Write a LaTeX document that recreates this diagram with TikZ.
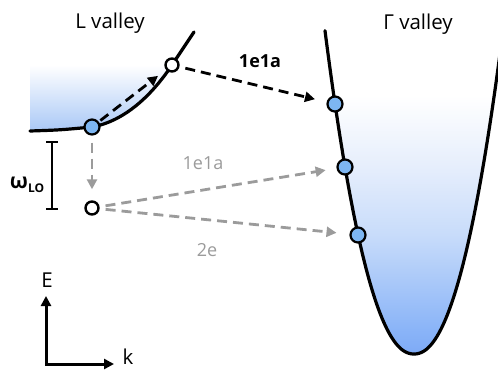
\documentclass[tikz,border=0pt]{standalone}
\usepackage{fontspec}
\setmainfont{Open Sans}
\usetikzlibrary{arrows.meta}
\definecolor{dotblue}{HTML}{7DB6F2}
\definecolor{gblue}{HTML}{7BA9F6}
\definecolor{gc0}{HTML}{7EAAF6}
\definecolor{gc1}{HTML}{8AB4F8}
\definecolor{gc2}{HTML}{C8DCFA}
\definecolor{gc3}{HTML}{E6EEFC}
\definecolor{lblue}{HTML}{A9C8F6}
\definecolor{arrgray}{HTML}{9B9B9B}
\pgfdeclareverticalshading{gshade}{100bp}{color(0bp)=(gc0); color(25bp)=(gc0); color(28.75bp)=(gc1); color(43.5bp)=(gc2); color(54bp)=(gc3); color(65bp)=(white); color(100bp)=(white)}
\begin{document}
\begin{tikzpicture}[x=1pt,y=-1pt,
  curve/.style={line width=3.2pt, line cap=round, line join=round},
  bdot/.style={circle, draw=black, line width=2.2pt, fill=dotblue, minimum size=15pt, inner sep=0pt},
  odot/.style={circle, draw=black, line width=2.4pt, fill=white, minimum size=13pt, inner sep=0pt},
  darr/.style={line width=2.8pt, dash pattern=on 10pt off 6pt, -{Triangle[length=10pt,width=10pt]}},
  blackarr/.style={darr, draw=black},
  grayarr/.style={darr, draw=arrgray, color=arrgray},
  lbl/.style={font=\fontsize{20.5}{23}\selectfont, inner sep=0pt},
  tlbl/.style={font=\fontsize{18}{21}\selectfont, inner sep=0pt},
  bar/.style={line width=2.6pt}
]
\useasboundingbox (0,0) rectangle (498,370);
\clip (0,0) rectangle (498,370);

% L valley fill and curve
\fill[top color=white, bottom color=lblue] (30,65) -- (30,131) .. controls (60,130) .. (92,127) .. controls (125,121) and (152,95) .. (172,65) -- cycle;
\draw[curve] (30,131) .. controls (60,130) .. (92,127) .. controls (125,121) and (152,95) .. (172,65) -- (194,32);

% Gamma valley fill and curve
\shade[shading=gshade]
  plot[domain=-89:86, samples=120] ({414+\x}, {354-93.6*(abs(\x)/50+0.0001)^2.15}) -- cycle;
\draw[curve]
  plot[domain=-89:86, samples=120] ({414+\x}, {354-93.6*(abs(\x)/50+0.0001)^2.15});

% states
\node[bdot] (l1) at (92,127) {};
\node[odot] (l2) at (172,65) {};
\node[odot] (l3) at (92,208) {};
\node[bdot] (g1) at (335,104) {};
\node[bdot] (g2) at (345,167) {};
\node[bdot] (g3) at (358,235) {};

% arrows
\draw[blackarr, shorten <=2pt, shorten >=10pt] (l1) -- (l2);
\draw[blackarr, shorten <=6pt, shorten >=12pt] (l2) -- (g1);
\draw[grayarr, shorten <=7pt, shorten >=11pt] (l1) -- (l3);
\draw[grayarr, shorten <=6pt, shorten >=11pt] (l3) -- (g2);
\draw[grayarr, shorten <=6pt, shorten >=13pt] (l3) -- (g3);

% labels
\node[lbl] (tl) at (110,23) {L valley};
\node[lbl] (tg) at (418,24) {Γ valley};
\node[tlbl, font=\fontsize{18}{21}\selectfont\bfseries] (a1) at (260,61) {1e1a};
\node[tlbl, text=arrgray] (a2) at (203,163) {1e1a};
\node[tlbl, text=arrgray] (a3) at (207,250) {2e};

% omega_LO bar
\coordinate (wt) at (52,142);
\coordinate (wb) at (52,209);
\draw[bar] (wt) -- (wb);
\draw[bar] ([xshift=-6pt]wt) -- ([xshift=6pt]wt);
\draw[bar] ([xshift=-6pt]wb) -- ([xshift=6pt]wb);
\node[inner sep=0pt, font=\fontsize{21}{23}\selectfont\bfseries] (w) at (27,185) {ω\raisebox{-0.4ex}{\fontsize{12}{13}\selectfont\bfseries LO}};

% axes
\coordinate (ax0) at (46,364);
\coordinate (axE) at (46,296);
\coordinate (axk) at (114,364);
\draw[line width=3pt, line join=miter, {Triangle[length=10pt,width=10pt]}-{Triangle[length=10pt,width=10pt]}] (axE) -- (ax0) -- (axk);
\node[lbl] (E) at (47,280) {E};
\node[lbl] (k) at (128,357) {k};
\end{tikzpicture}
\end{document}
